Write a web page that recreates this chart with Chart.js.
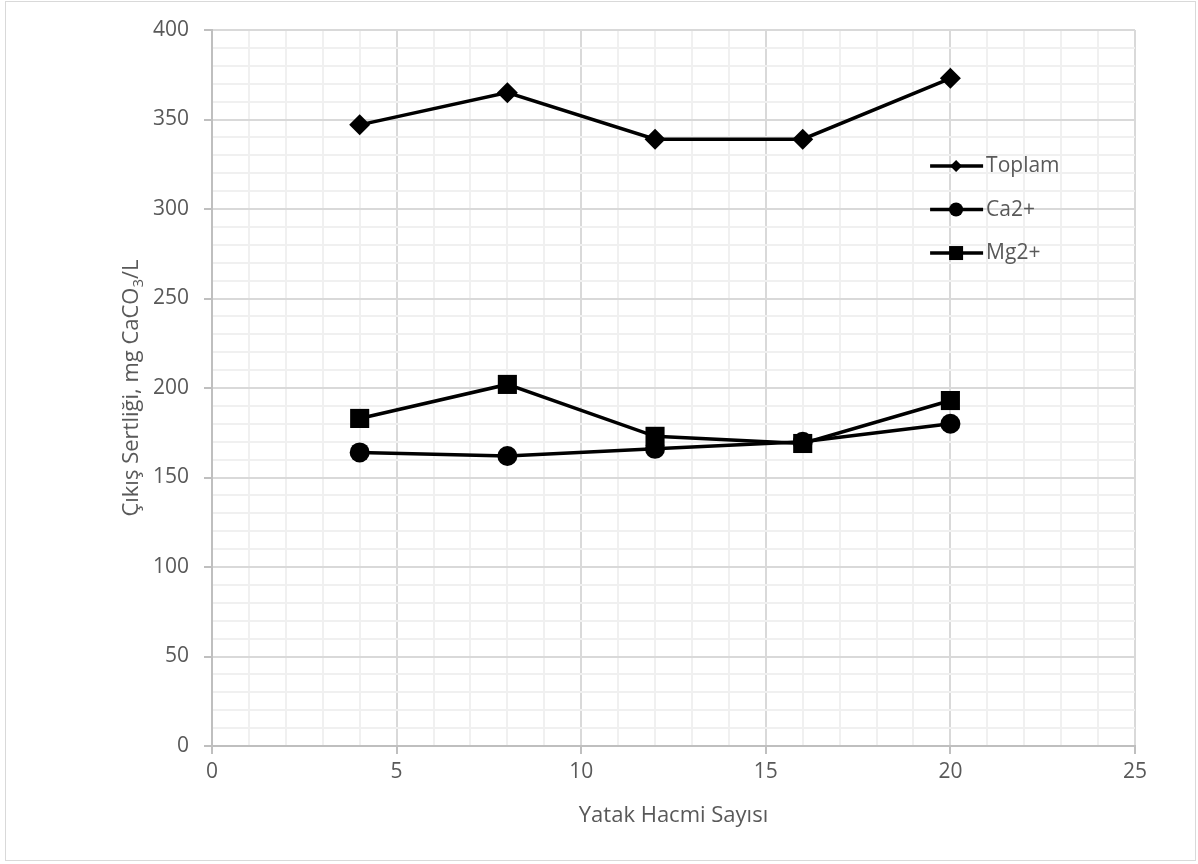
<!DOCTYPE html>
<html>
<head>
<meta charset="utf-8">
<script src="https://cdn.jsdelivr.net/npm/chart.js@4"></script>
<style>
  html, body { margin: 0; padding: 0; background: #fff; }
  #wrap { position: relative; width: 1198px; height: 864px; }
  #frame { position: absolute; left: 5px; top: 1px; width: 1191px; height: 860px; border: 1px solid #d9d9d9; box-sizing: border-box; pointer-events: none; }
</style>
</head>
<body>
<div id="wrap">
  <canvas id="grafico" width="1198" height="864"></canvas>
  <div id="frame"></div>
</div>
<script>
// x values (Yatak Hacmi Sayısı)
var yatak = [4, 8, 12, 16, 20];
// series values, mg CaCO3/L
var toplam = [347, 365, 339, 339, 373];
var ca = [164, 162, 166, 170, 180];
var mg = [183, 202, 173, 169, 193];
var seriesNames = ['Toplam', 'Ca2+', 'Mg2+'];
var xTicks = [0, 5, 10, 15, 20, 25];
var yTicks = [0, 50, 100, 150, 200, 250, 300, 350, 400];

var FONT = '"Open Sans", Lato, sans-serif';
var GREY_TEXT = '#595959';

function pts(vals) {
  var out = [];
  for (var i = 0; i < yatak.length; i++) {
    out.push({ x: yatak[i], y: vals[i] });
  }
  return out;
}

function drawMarker(ctx, style, x, y, r) {
  ctx.beginPath();
  if (style === 'rectRot') {
    ctx.moveTo(x - r, y); ctx.lineTo(x, y - r); ctx.lineTo(x + r, y); ctx.lineTo(x, y + r);
    ctx.closePath();
  } else if (style === 'rect') {
    ctx.rect(x - r, y - r, 2 * r, 2 * r);
  } else {
    ctx.arc(x, y, r, 0, Math.PI * 2);
  }
  ctx.fill();
}

// legend drawn inside the plot area, line + marker like the original
var legendInside = {
  id: 'legendInside',
  afterDraw: function (chart) {
    var ctx = chart.ctx;
    var a = chart.chartArea;
    var x0 = a.left + (a.right - a.left) * 0.778;
    var y0 = a.top + (a.bottom - a.top) * 0.19;
    var sizes = [6, 7, 7];
    ctx.save();
    chart.data.datasets.forEach(function (ds, i) {
      var y = y0 + i * 43.5;
      ctx.strokeStyle = '#000';
      ctx.lineWidth = 3.5;
      ctx.beginPath();
      ctx.moveTo(x0, y); ctx.lineTo(x0 + 53, y);
      ctx.stroke();
      ctx.fillStyle = '#000';
      drawMarker(ctx, ds.pointStyle, x0 + 26, y, sizes[i]);
      ctx.fillStyle = GREY_TEXT;
      ctx.font = '21px ' + FONT;
      ctx.textBaseline = 'middle';
      ctx.textAlign = 'left';
      ctx.fillText(ds.label, x0 + 56, y);
    });
    ctx.restore();
  }
};

// y axis title with a real subscript 3
var yTitle = {
  id: 'yTitle',
  afterDraw: function (chart) {
    var ctx = chart.ctx;
    var a = chart.chartArea;
    var p1 = 'Çıkış Sertliği, mg CaCO', sub = '3', p2 = '/L';
    ctx.save();
    ctx.fillStyle = GREY_TEXT;
    ctx.font = '22px ' + FONT;
    var w1 = ctx.measureText(p1).width, w3 = ctx.measureText(p2).width;
    ctx.font = '15px ' + FONT;
    var w2 = ctx.measureText(sub).width;
    var total = w1 + w2 + w3;
    ctx.translate(132, (a.top + a.bottom) / 2);
    ctx.rotate(-Math.PI / 2);
    ctx.textBaseline = 'middle';
    ctx.textAlign = 'left';
    var sx = -total / 2;
    ctx.font = '22px ' + FONT;
    ctx.fillText(p1, sx, 0);
    ctx.font = '15px ' + FONT;
    ctx.fillText(sub, sx + w1, 7);
    ctx.font = '22px ' + FONT;
    ctx.fillText(p2, sx + w1 + w2, 0);
    ctx.restore();
  }
};

var graf = document.getElementById('grafico');
var myChart = new Chart(graf, {
  type: 'scatter',
  data: {
    datasets: [
      { label: seriesNames[0], data: pts(toplam), pointStyle: 'rectRot', pointRadius: 10.5, order: 2 },
      { label: seriesNames[1], data: pts(ca), pointStyle: 'circle', pointRadius: 10, order: 1 },
      { label: seriesNames[2], data: pts(mg), pointStyle: 'rect', pointRadius: 13.5, order: 0 }
    ].map(function (d) {
      d.showLine = true;
      d.borderColor = '#000';
      d.backgroundColor = '#000';
      d.borderWidth = 3.5;
      d.pointBorderWidth = 0;
      d.pointHoverRadius = d.pointRadius;
      return d;
    })
  },
  options: {
    responsive: false,
    animation: false,
    events: [],
    layout: { padding: { left: 10, right: 63, top: 30, bottom: 10 } },
    plugins: {
      legend: { display: false },
      tooltip: { enabled: false }
    },
    scales: {
      x: {
        type: 'linear',
        min: 0, max: 25,
        afterFit: function (s) { s.height = 864 - 746 - 10; },
        afterBuildTicks: function (s) {
          var t = [];
          for (var v = 0; v <= 25; v++) t.push({ value: v });
          s.ticks = t;
        },
        ticks: {
          autoSkip: false,
          maxRotation: 0,
          color: GREY_TEXT,
          font: { family: FONT, size: 21 },
          padding: 5,
          callback: function (v) { return xTicks.indexOf(v) >= 0 ? String(v) : ''; }
        },
        grid: {
          color: function (c) { return c.tick && c.tick.value % 5 === 0 ? '#d9d9d9' : '#f0f0f0'; },
          lineWidth: 2,
          tickLength: 8,
          tickColor: function (c) { return c.tick && c.tick.value % 5 === 0 ? '#bfbfbf' : 'rgba(0,0,0,0)'; }
        },
        border: { color: '#bfbfbf', width: 2 },
        title: {
          display: true,
          text: 'Yatak Hacmi Sayısı',
          color: GREY_TEXT,
          font: { family: FONT, size: 22 },
          padding: { top: 12, bottom: 25 }
        }
      },
      y: {
        type: 'linear',
        min: 0, max: 400,
        afterFit: function (s) { s.width = 212 - 10; },
        afterBuildTicks: function (s) {
          var t = [];
          for (var v = 0; v <= 400; v += 10) t.push({ value: v });
          s.ticks = t;
        },
        ticks: {
          autoSkip: false,
          color: GREY_TEXT,
          font: { family: FONT, size: 21 },
          padding: 15,
          callback: function (v) { return yTicks.indexOf(v) >= 0 ? String(v) : ''; }
        },
        grid: {
          color: function (c) { return c.tick && c.tick.value % 50 === 0 ? '#d9d9d9' : '#f0f0f0'; },
          lineWidth: 2,
          tickLength: 8,
          tickColor: function (c) { return c.tick && c.tick.value % 50 === 0 ? '#bfbfbf' : 'rgba(0,0,0,0)'; }
        },
        border: { color: '#bfbfbf', width: 2 }
      }
    }
  },
  plugins: [legendInside, yTitle]
});
</script>
</body>
</html>
